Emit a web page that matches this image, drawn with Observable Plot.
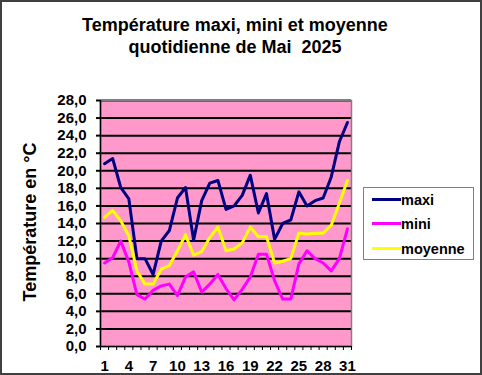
<!DOCTYPE html>
<html>
<head>
<meta charset="utf-8">
<script src="https://cdn.jsdelivr.net/npm/d3@7"></script>
<script src="https://cdn.jsdelivr.net/npm/@observablehq/plot@0.6"></script>
<style>
  body { margin: 0; background: #fff; }
  #c { position: relative; width: 482px; height: 375px; overflow: hidden; background: #fff;
       font-family: "Liberation Sans", Arial, sans-serif; font-weight: bold; color: #000; }
  #plot { position: absolute; left: 0; top: 0; }
  .title { position: absolute; left: 0; width: 470px; text-align: center; font-size: 18px;
           line-height: 22px; white-space: pre; }
  #yt { position: absolute; left: -120px; top: 212px; width: 300px; height: 20px; line-height: 20px;
        text-align: center; font-size: 18px; transform: rotate(-90deg); white-space: pre; }
  #legend { position: absolute; left: 363px; top: 187px; width: 111px; height: 73px;
            border: 1px solid #808080; box-sizing: border-box; background: #fff; }
  .item { position: absolute; left: 0; height: 20px; width: 110px; }
  .item .sw { position: absolute; left: 8px; top: 8px; width: 29px; height: 3px; }
  .item .lb { position: absolute; left: 37px; top: 0; line-height: 20px; font-size: 14.5px; }
  #border { position: absolute; left: 0; top: 0; width: 482px; height: 375px; box-sizing: border-box;
            border: 2px solid #404040; pointer-events: none; }
</style>
</head>
<body>
<div id="c">
  <div id="plot"></div>
  <div class="title" style="top:14px">Température maxi, mini et moyenne</div>
  <div class="title" style="top:36px">quotidienne de Mai  2025</div>
  <div id="yt">Température en °C</div>
  <div id="legend"></div>
  <div id="border"></div>
</div>
<script>
const days = [1,2,3,4,5,6,7,8,9,10,11,12,13,14,15,16,17,18,19,20,21,22,23,24,25,26,27,28,29,30,31];
const maxi = [20.8, 21.4, 18.1, 16.8, 10.0, 10.0, 8.2, 12.0, 13.2, 16.9, 18.1, 12.1, 16.6, 18.6, 18.9, 15.6,
              16.0, 17.2, 19.5, 15.2, 17.4, 12.2, 14.0, 14.4, 17.6, 16.0, 16.6, 16.9, 19.3, 23.3, 25.5];
const mini = [9.5, 10.1, 12.0, 9.6, 5.9, 5.4, 6.4, 6.9, 7.1, 5.8, 7.9, 8.5, 6.2, 7.1, 8.2, 6.6,
              5.3, 6.5, 7.9, 10.5, 10.5, 7.5, 5.4, 5.4, 9.4, 10.9, 10.0, 9.5, 8.6, 10.0, 13.4];
const moyenne = [14.7, 15.5, 14.3, 12.6, 8.6, 7.1, 7.1, 8.8, 9.2, 10.9, 12.7, 10.4, 10.8, 12.4, 13.6, 10.9,
                 11.1, 11.8, 13.6, 12.5, 12.5, 9.5, 9.7, 10.0, 12.9, 12.8, 12.9, 12.9, 13.8, 16.3, 18.9];
const seriesNames = ["maxi", "mini", "moyenne"];
const seriesColors = ["#000080", "#FF00FF", "#FFFF00"];
const yTicks = [0, 2, 4, 6, 8, 10, 12, 14, 16, 18, 20, 22, 24, 26, 28];
const xTickLabels = [1, 4, 7, 10, 13, 16, 19, 22, 25, 28, 31];

const seriesValues = [maxi, mini, moyenne];
const rows = seriesNames.flatMap((s, k) => days.map((d, i) => ({day: d, v: seriesValues[k][i], s})));
const boundaries = [0.5, ...days.map(d => d + 0.5)];

const chart = Plot.plot({
  width: 482, height: 375,
  marginLeft: 100, marginRight: 131, marginTop: 100, marginBottom: 29,
  x: {domain: [0.5, 31.5]},
  y: {domain: [0, 28]},
  color: {domain: seriesNames, range: seriesColors},
  style: {fontFamily: '"Liberation Sans", Arial, sans-serif', fontSize: "15px", fontWeight: "bold",
          color: "#000", background: "transparent"},
  marks: [
    Plot.frame({fill: "#FF99CC"}),
    Plot.ruleY(yTicks.filter(t => t > 0), {stroke: "#000", strokeWidth: 2}),
    Plot.frame({stroke: "#808080", strokeWidth: 1.5}),
    Plot.ruleX([0.5], {stroke: "#000", strokeWidth: 1.5}),
    Plot.ruleY([0], {stroke: "#000", strokeWidth: 1.5}),
    Plot.axisY({ticks: yTicks, tickFormat: d => d.toFixed(1).replace(".", ","), tickSize: 4,
                tickPadding: 10, strokeWidth: 2, label: null}),
    Plot.axisX({ticks: boundaries, tickFormat: () => "", tickSize: 4, label: null}),
    Plot.axisX({ticks: xTickLabels, tickFormat: d => String(d), tickSize: 0, tickPadding: 14, label: null}),
    Plot.line(rows, {x: "day", y: "v", z: "s", stroke: "s", strokeWidth: 3})
  ]
});
document.getElementById("plot").appendChild(chart);

const legend = document.getElementById("legend");
const tops = [2, 26, 51];
seriesNames.forEach((name, i) => {
  const it = document.createElement("div");
  it.className = "item";
  it.style.top = tops[i] + "px";
  it.innerHTML = `<span class="sw" style="background:${seriesColors[i]}"></span><span class="lb">${name}</span>`;
  legend.appendChild(it);
});
</script>
</body>
</html>
